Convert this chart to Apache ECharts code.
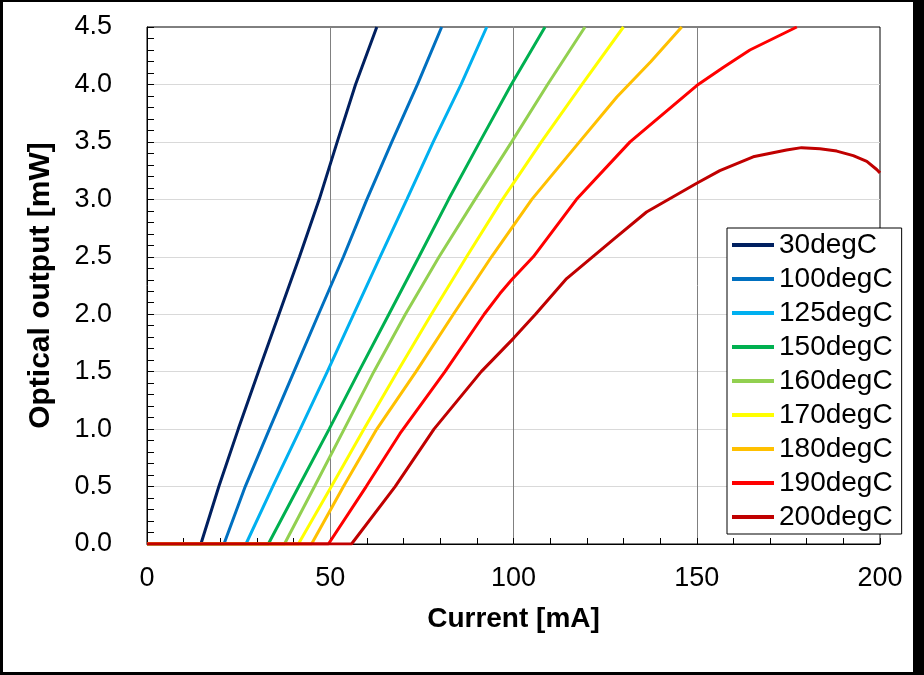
<!DOCTYPE html>
<html>
<head>
<meta charset="utf-8">
<script src="https://cdn.jsdelivr.net/npm/echarts@6/dist/echarts.min.js"></script>
<style>
html,body{margin:0;padding:0;background:#fff;}
#chart{width:924px;height:675px;}
</style>
</head>
<body>
<div id="chart"></div>
<script>
// ---- data ----
const seriesNames = ['30degC','100degC','125degC','150degC','160degC','170degC','180degC','190degC','200degC'];
const seriesColors = ['#002060','#0070C0','#00B0F0','#00B050','#92D050','#FFFF00','#FFC000','#FF0000','#C00000'];

const xTicks = [0, 50, 100, 150, 200];
const yTicks = [0.0, 0.5, 1.0, 1.5, 2.0, 2.5, 3.0, 3.5, 4.0, 4.5];

const current30  = [0, 14.7, 19.6, 24.9, 30.4, 36.0, 41.6, 47.0, 51.9, 56.9, 62.7];
const power30    = [0, 0, 0.5, 1.0, 1.5, 2.0, 2.5, 3.0, 3.5, 4.0, 4.5];
const current100 = [0, 21.0, 26.8, 33.4, 40.1, 46.8, 53.6, 60.0, 66.8, 73.8, 80.4];
const power100   = [0, 0, 0.5, 1.0, 1.5, 2.0, 2.5, 3.0, 3.5, 4.0, 4.5];
const current125 = [0, 27.0, 34.3, 41.8, 49.2, 56.4, 63.6, 70.9, 78.1, 85.7, 92.7];
const power125   = [0, 0, 0.5, 1.0, 1.5, 2.0, 2.5, 3.0, 3.5, 4.0, 4.5];
const current150 = [0, 33.1, 41.4, 49.7, 57.8, 66.0, 74.2, 82.3, 90.8, 99.4, 108.6];
const power150   = [0, 0, 0.5, 1.0, 1.5, 2.0, 2.5, 3.0, 3.5, 4.0, 4.5];
const current160 = [0, 37.5, 45.7, 53.8, 61.9, 70.5, 79.7, 89.5, 99.5, 109.3, 119.5];
const power160   = [0, 0, 0.5, 1.0, 1.5, 2.0, 2.5, 3.0, 3.5, 4.0, 4.5];
const current170 = [0, 41.3, 50.3, 59.2, 68.3, 77.6, 87.2, 97.0, 107.6, 118.7, 130.0];
const power170   = [0, 0, 0.5, 1.0, 1.5, 2.0, 2.5, 3.0, 3.5, 4.0, 4.5];
const current180 = [0, 44.9, 53.6, 62.7, 73.4, 83.6, 94.0, 105.0, 118.0, 128.2, 137.5, 145.9];
const power180   = [0, 0, 0.5, 1.0, 1.5, 2.0, 2.5, 3.0, 3.5, 3.89, 4.2, 4.5];
const current190 = [0, 49.5, 59.8, 69.0, 81.3, 92.0, 96.3, 99.5, 105.4, 117.2, 131.8, 150.0, 157.3, 164.5, 177.3];
const power190   = [0, 0, 0.5, 0.96, 1.5, 2.0, 2.18, 2.30, 2.5, 3.0, 3.5, 3.99, 4.15, 4.30, 4.5];
const current200 = [0, 55.8, 67.7, 78.3, 91.2, 100.0, 106.0, 114.5, 127.2, 136.3, 150.0, 156.3, 165.4, 174.5, 178.6, 183.6, 188.2, 192.7, 196.4, 199.1, 200.0];
const power200   = [0, 0, 0.5, 1.0, 1.5, 1.79, 2.0, 2.31, 2.65, 2.89, 3.14, 3.25, 3.37, 3.43, 3.45, 3.44, 3.42, 3.38, 3.33, 3.26, 3.23];

const currents = [current30, current100, current125, current150, current160, current170, current180, current190, current200];
const powers   = [power30, power100, power125, power150, power160, power170, power180, power190, power200];

// ---- chart ----
const FONT = '"Liberation Sans", Arial, sans-serif';
const chart = echarts.init(document.getElementById('chart'), null, {renderer: 'canvas'});

const series = seriesNames.map((name, i) => ({
  name: name,
  type: 'line',
  data: currents[i].map((x, k) => [x, powers[i][k]]),
  showSymbol: false,
  symbol: 'none',
  color: seriesColors[i],
  lineStyle: {width: 3, color: seriesColors[i]},
  z: 2 + i * 0.01,
  animation: false
}));

chart.setOption({
  animation: false,
  backgroundColor: '#ffffff',
  textStyle: {fontFamily: FONT},
  grid: {
    left: 147, right: 44, top: 27, bottom: 131,
    show: true, borderColor: '#000', borderWidth: 1, backgroundColor: 'transparent'
  },
  xAxis: {
    type: 'value',
    min: xTicks[0], max: xTicks[xTicks.length - 1], interval: 50,
    name: 'Current [mA]',
    nameLocation: 'middle',
    nameGap: 61,
    nameTextStyle: {fontSize: 28, fontWeight: 'bold', color: '#000', fontFamily: FONT},
    axisLine: {show: true, lineStyle: {color: '#000', width: 1}},
    axisTick: {show: true, inside: true, length: 6, lineStyle: {color: '#000'}},
    minorTick: {show: true, splitNumber: 5, length: 6, lineStyle: {color: '#000'}},
    axisLabel: {fontSize: 27, color: '#000', margin: 21, fontFamily: FONT},
    splitLine: {show: true, showMinLine: false, showMaxLine: false, lineStyle: {color: '#808080', width: 1}}
  },
  yAxis: {
    type: 'value',
    min: yTicks[0], max: yTicks[yTicks.length - 1], interval: 0.5,
    name: 'Optical output [mW]',
    nameLocation: 'middle',
    nameGap: 91,
    nameTextStyle: {fontSize: 30, fontWeight: 'bold', color: '#000', fontFamily: FONT},
    axisLine: {show: true, lineStyle: {color: '#000', width: 1}},
    axisTick: {show: true, inside: true, length: 7, lineStyle: {color: '#000'}},
    minorTick: {show: true, splitNumber: 5, length: 7, lineStyle: {color: '#000'}},
    axisLabel: {fontSize: 27, color: '#000', margin: 35, fontFamily: FONT,
      formatter: v => v.toFixed(1)},
    splitLine: {show: true, showMinLine: false, showMaxLine: false, lineStyle: {color: '#d9d9d9', width: 1}}
  },
  legend: {
    show: true,
    orient: 'vertical',
    left: 727, top: 228,
    padding: [0, 9, 0, 5],
    itemGap: 0,
    itemWidth: 42,
    itemHeight: 4,
    icon: 'rect',
    backgroundColor: '#fff',
    borderColor: '#000',
    borderWidth: 1,
    borderRadius: 0,
    textStyle: {fontSize: 28, color: '#000', lineHeight: 34, fontFamily: FONT},
    selectedMode: false,
    data: seriesNames
  },
  graphic: [
    {type: 'rect', shape: {x: 0, y: 0, width: 924, height: 2}, style: {fill: '#000'}, z: 100, silent: true},
    {type: 'rect', shape: {x: 0, y: 672, width: 924, height: 3}, style: {fill: '#000'}, z: 100, silent: true},
    {type: 'rect', shape: {x: 0, y: 0, width: 3, height: 675}, style: {fill: '#000'}, z: 100, silent: true},
    {type: 'rect', shape: {x: 913, y: 0, width: 11, height: 675}, style: {fill: '#000'}, z: 100, silent: true}
  ],
  series: series
});
</script>
</body>
</html>
